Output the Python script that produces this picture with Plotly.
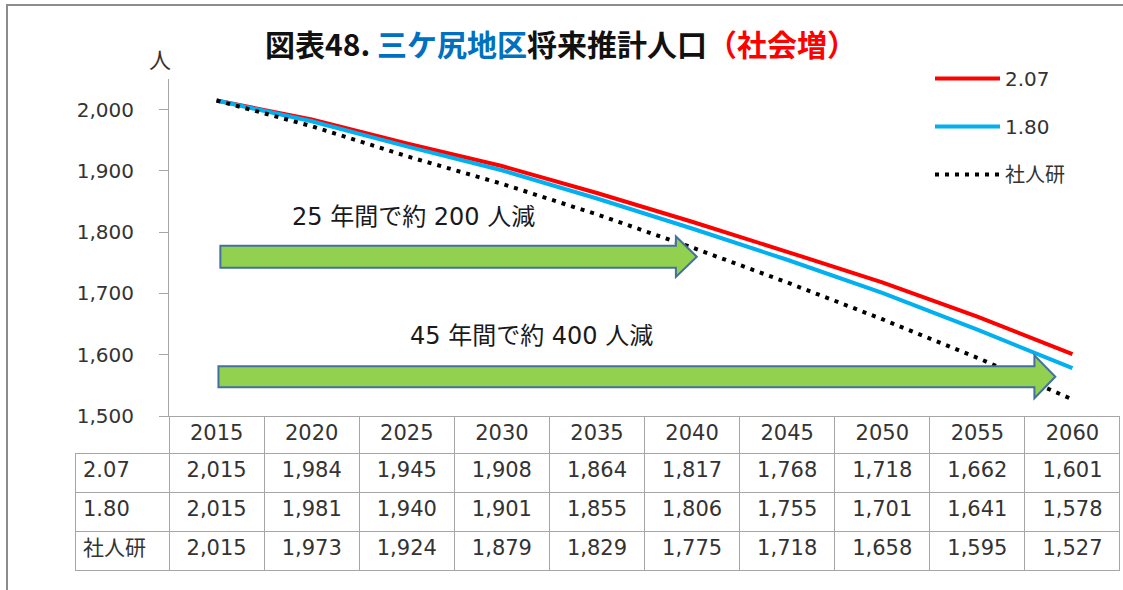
import plotly.graph_objects as go

# ---------------- data ----------------
years = ["2015", "2020", "2025", "2030", "2035", "2040", "2045", "2050", "2055", "2060"]
series_names = ["2.07", "1.80", "社人研"]
pop_207 = [2015, 1984, 1945, 1908, 1864, 1817, 1768, 1718, 1662, 1601]
pop_180 = [2015, 1981, 1940, 1901, 1855, 1806, 1755, 1701, 1641, 1578]
pop_ipss = [2015, 1973, 1924, 1879, 1829, 1775, 1718, 1658, 1595, 1527]
y_ticks = [1500, 1600, 1700, 1800, 1900, 2000]
notes = ["25 年間で約 200 人減", "45 年間で約 400 人減"]

# ---------------- layout helpers ----------------
W, H = 1123, 590
def fx(p):
    return p / W
def fy(p):
    return 1 - p / H

FONT = "'DejaVu Sans', 'Noto Sans CJK JP', sans-serif"
JFONT = "'Noto Sans CJK JP', sans-serif"
GRID = "#A6A6A6"
TXT = "#333333"

fig = go.Figure()

styles = [
    ("#FF0000", "solid"),
    ("#00B0F0", "solid"),
    ("#000000", "4px,6px"),
]
for name, vals, (col, dash) in zip(series_names, [pop_207, pop_180, pop_ipss], styles):
    fig.add_trace(go.Scatter(
        x=years, y=vals, name=name, mode="lines", legendgroup=name,
        line=dict(color=col, width=4, dash=dash),
    ))

# data table under the chart
def fmt(v):
    return f"{v:,}"

header_vals = [""] + years
cell_vals = [series_names] + [[fmt(pop_207[i]), fmt(pop_180[i]), fmt(pop_ipss[i])] for i in range(len(years))]
clear = "rgba(0,0,0,0)"
fig.add_trace(go.Table(
    domain=dict(x=[fx(75), fx(1120)], y=[0, fy(416)]),
    columnwidth=[94] + [95] * len(years),
    header=dict(
        values=header_vals, height=37,
        fill=dict(color=[clear] + ["white"] * len(years)),
        line=dict(color=[clear] + [GRID] * len(years), width=1),
        font=dict(family=FONT, size=21, color=TXT), align="center",
    ),
    cells=dict(
        values=cell_vals, height=39,
        fill=dict(color="white"),
        line=dict(color=GRID, width=1),
        font=dict(family=FONT, size=21, color=TXT),
        align=["left"] + ["center"] * len(years),
    ),
))

# green arrows (in data units)
arrows = [
    # x_start, x_head_base, x_tip, body_half, head_half, y_center
    (0.04, 4.83, 5.05, 18, 33, 1760),
    (0.02, 8.60, 8.82, 17, 35, 1564),
]
for xs, xb, xt, bh, hh, yc in arrows:
    path = (f"M {xs},{yc+bh} L {xb},{yc+bh} L {xb},{yc+hh} L {xt},{yc} "
            f"L {xb},{yc-hh} L {xb},{yc-bh} L {xs},{yc-bh} Z")
    fig.add_shape(type="path", path=path, xref="x", yref="y",
                  fillcolor="#92D050", line=dict(color="#41719C", width=2))

fig.add_annotation(x=2.07, y=1824, xref="x", yref="y", text=notes[0], showarrow=False,
                   font=dict(family=FONT, size=24, color="#1a1a1a"))
fig.add_annotation(x=3.31, y=1630, xref="x", yref="y", text=notes[1], showarrow=False,
                   font=dict(family=FONT, size=24, color="#1a1a1a"))

# unit label
fig.add_annotation(x=fx(160), y=fy(58), xref="paper", yref="paper", text="人", showarrow=False,
                   xanchor="center", yanchor="middle",
                   font=dict(family=JFONT, size=22, color=TXT))

# outer frame
fig.add_shape(type="rect", xref="paper", yref="paper", x0=fx(7), x1=fx(1140), y0=fy(610), y1=fy(5),
              line=dict(color="#8C8C8C", width=2), fillcolor=clear, layer="below")

title_text = ("<b>図表48. <span style='color:#0070C0'>三ケ尻地区</span>将来推計人口"
              "<span style='color:#FF0000'>（社会増）</span></b>")

fig.update_layout(
    width=W, height=H,
    margin=dict(l=0, r=0, t=0, b=0, autoexpand=False),
    paper_bgcolor="white", plot_bgcolor="white",
    title=dict(text=title_text, x=fx(561), y=fy(45), xanchor="center", yanchor="middle",
               font=dict(family=JFONT, size=30, color="#111111")),
    xaxis=dict(domain=[fx(169), fx(1120)], range=[-0.5, len(years) - 0.5], type="category",
               showticklabels=False, ticks="", showgrid=False, zeroline=False, automargin=False,
               showline=True, linecolor=GRID, linewidth=1),
    yaxis=dict(domain=[fy(416), fy(79)], range=[1500, 2050], tickvals=y_ticks, tickformat=",",
               ticks="outside", ticklen=9, tickcolor=GRID, showgrid=False, zeroline=False,
               automargin=False,
               showline=True, linecolor=GRID, linewidth=1, ticklabelstandoff=21,
               tickfont=dict(family=FONT, size=20, color=TXT)),
    legend=dict(x=fx(930), y=fy(59), xanchor="left", yanchor="top", itemwidth=65,
                tracegroupgap=19, bgcolor=clear,
                font=dict(family=FONT, size=20, color=TXT)),
    showlegend=True,
)

fig.write_html(
    "out.html",
    config={"displayModeBar": False},
    post_script=("document.documentElement.style.margin='0';document.documentElement.style.overflow='hidden';"
                 "document.body.style.margin='0';document.body.style.overflow='hidden';"),
)
